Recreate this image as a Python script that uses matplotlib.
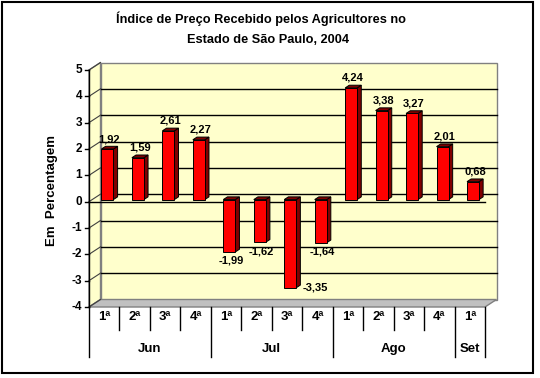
import matplotlib
matplotlib.use("Agg")
import matplotlib.pyplot as plt
from matplotlib.patches import Polygon, Rectangle

weeks = ["1ª", "2ª", "3ª", "4ª", "1ª", "2ª", "3ª", "4ª", "1ª", "2ª", "3ª", "4ª", "1ª"]
months = ["Jun", "Jul", "Ago", "Set"]
month_spans = [4, 4, 4, 1]
values = [1.92, 1.59, 2.61, 2.27, -1.99, -1.62, -3.35, -1.64, 4.24, 3.38, 3.27, 2.01, 0.68]
yticks = [-4, -3, -2, -1, 0, 1, 2, 3, 4, 5]
title_lines = ["Índice de Preço Recebido pelos Agricultores no", "Estado de São Paulo, 2004"]
ylabel = "Em  Percentagem"

plt.rcParams['font.family'] = ['Liberation Sans', 'DejaVu Sans']
plt.rcParams['font.weight'] = 'bold'

W, H = 540, 378
fig = plt.figure(figsize=(W / 100, H / 100), dpi=100)
fig.patch.set_facecolor('white')
L, R, T, B = 89, 485, 70, 307
ax = fig.add_axes([L / W, 1 - B / H, (R - L) / W, (B - T) / H])
n = len(values)
ymin, ymax = yticks[0], yticks[-1]
ax.set_xlim(0, n)
ax.set_ylim(ymin, ymax)
ax.axis('off')
PX = n / (R - L)
PY = (ymax - ymin) / (B - T)
DX, DY = 11.5 * PX, 7.5 * PY

wall = '#FFFFCC'
edge = '#808080'
# back wall, side wall, floor
ax.add_patch(Polygon([(DX, ymin + DY), (n + DX, ymin + DY), (n + DX, ymax + DY), (DX, ymax + DY)],
                     closed=True, fc=wall, ec=edge, lw=1, clip_on=False, zorder=1))
ax.add_patch(Polygon([(0, ymin), (DX, ymin + DY), (DX, ymax + DY), (0, ymax)],
                     closed=True, fc=wall, ec=edge, lw=1, clip_on=False, zorder=1))
ax.add_patch(Polygon([(0, ymin), (n, ymin), (n + DX, ymin + DY), (DX, ymin + DY)],
                     closed=True, fc='#C0C0C0', ec=edge, lw=1, clip_on=False, zorder=1.5))

for y in yticks:
    if ymin < y < ymax:
        ax.plot([DX, n + DX], [y + DY, y + DY], color='black', lw=1, clip_on=False, zorder=2)
    ax.plot([0, DX], [y, y + DY], color='#404040', lw=0.8, clip_on=False, zorder=2)
    ax.plot([-4 * PX, 0], [y, y], color='black', lw=1, clip_on=False, zorder=3)
    ax.text(-7 * PX, y, str(y), ha='right', va='center', fontsize=8.5, clip_on=False)

ax.plot([0, 0], [ymin, ymax], color='black', lw=1, clip_on=False, zorder=3)
ax.plot([0, n], [0, 0], color='black', lw=1, clip_on=False, zorder=2)

# bars
d0, dd = 0.28, 0.36
bw = 12 * PX
for i, v in enumerate(values):
    cx = i + 0.5 + d0 * DX
    xl, xr = cx - bw / 2, cx + bw / 2
    b0 = d0 * DY
    top = v + b0
    ox, oy = dd * DX, dd * DY
    z = 4 + i * 0.01
    ax.add_patch(Polygon([(xr, b0), (xr + ox, b0 + oy), (xr + ox, top + oy), (xr, top)],
                         closed=True, fc='#800000', ec='black', lw=0.7, clip_on=False, zorder=z))
    t = max(v, 0) + b0
    ax.add_patch(Polygon([(xl, t), (xr, t), (xr + ox, t + oy), (xl + ox, t + oy)],
                         closed=True, fc='#800000', ec='black', lw=0.7, clip_on=False, zorder=z))
    ax.add_patch(Rectangle((xl, b0), bw, v, fc='#FF0000', ec='black', lw=0.7,
                           clip_on=False, zorder=z + 0.005))
    lab = f"{v:.2f}".replace('.', ',')
    if v >= 0:
        ax.text(cx + 2 * PX, top + 10 * PY, lab, ha='center', va='center', fontsize=8, zorder=6)
    elif top - 22 * PY < ymin:
        ax.text(xr + 6 * PX, top, lab, ha='left', va='center', fontsize=8, zorder=6)
    else:
        ax.text(cx + 2 * PX, top - 9 * PY, lab, ha='center', va='center', fontsize=8, zorder=6)

# category table
bounds = [0]
for s in month_spans:
    bounds.append(bounds[-1] + s)
for k in range(n + 1):
    depth = 50 if k in bounds else 23
    ax.plot([k, k], [ymin, ymin - depth * PY], color='black', lw=1, clip_on=False, zorder=3)
for i, w in enumerate(weeks):
    ax.text(i + 0.5, ymin - 10 * PY, w, ha='center', va='center', fontsize=9.5, clip_on=False)
for m, a, b in zip(months, bounds[:-1], bounds[1:]):
    ax.text((a + b) / 2, ymin - 42 * PY, m, ha='center', va='center', fontsize=9.5, clip_on=False)

# titles
fig.text(261 / W, 1 - 19 / H, title_lines[0], ha='center', va='center', fontsize=9.2)
fig.text(268 / W, 1 - 40 / H, title_lines[1], ha='center', va='center', fontsize=9.2)
fig.text(52 / W, 1 - 190 / H, ylabel, rotation=90, ha='center', va='center', fontsize=9.5)

fig.add_artist(Rectangle((2 / W, 1 - 373 / H), 531 / W, 371 / H, transform=fig.transFigure,
                         fill=False, ec='black', lw=1.5))

fig.savefig('out.png', dpi=100)
